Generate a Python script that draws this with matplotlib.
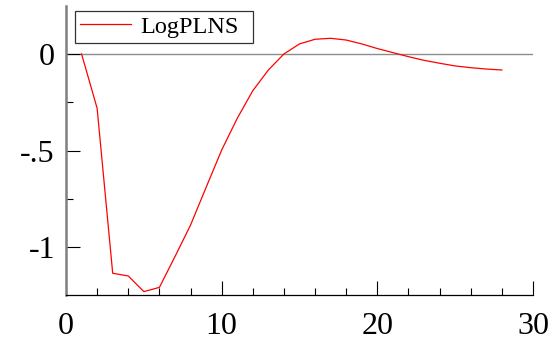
import numpy as np
import matplotlib
matplotlib.use("Agg")
import matplotlib.pyplot as plt
from matplotlib.ticker import MultipleLocator, FixedLocator, FuncFormatter

# Werte
periode = [1, 2, 3, 4, 5, 6, 7, 8, 9, 10, 11, 12, 13, 14,
           15, 16, 17, 18, 19, 20, 21, 22, 23, 24, 25, 26, 27, 28]
logplns = [0.0, -0.281, -1.134, -1.148, -1.229, -1.207, -1.048, -0.885,
           -0.69, -0.497, -0.333, -0.19, -0.083, 0.0, 0.052, 0.076, 0.081,
           0.072, 0.052, 0.028, 0.007, -0.014, -0.033, -0.048, -0.062,
           -0.071, -0.078, -0.083]
serie_name = "LogPLNS"
y_ticks = [-1.0, -0.5, 0.0]
y_labels = ["-1", "-.5", "0"]

plt.rcParams['font.family'] = ['Liberation Serif', 'DejaVu Serif']

fig = plt.figure(figsize=(5.6, 3.41), dpi=100)
ax = fig.add_axes([66 / 560, 1 - 295.3 / 341, (533 - 66) / 560, (295.3 - 6) / 341])

ax.axhline(0, color='#8c8c8c', lw=1.0, zorder=1)
ax.plot(periode, logplns, color='#ff0000', lw=0.9, label=serie_name, zorder=2)

ax.set_xlim(0, 30)
ax.set_ylim(-1.248, 0.248)

ax.xaxis.set_major_locator(MultipleLocator(10))
ax.xaxis.set_minor_locator(MultipleLocator(2))
ax.yaxis.set_major_locator(FixedLocator(y_ticks))
ax.yaxis.set_minor_locator(FixedLocator([-0.75, -0.25]))
ax.yaxis.set_major_formatter(FuncFormatter(lambda v, p: y_labels[y_ticks.index(round(v, 2))] if round(v, 2) in y_ticks else ""))

for s in ['top', 'right']:
    ax.spines[s].set_visible(False)
ax.spines['left'].set_color('#808080')
ax.spines['left'].set_linewidth(1.8)
ax.spines['bottom'].set_color('black')
ax.spines['bottom'].set_linewidth(0.9)

ax.tick_params(axis='both', which='major', direction='in', length=10, width=0.8,
               colors='black', labelsize=23)
ax.tick_params(axis='both', which='minor', direction='in', length=5.3, width=0.8,
               colors='black')
ax.tick_params(axis='x', which='major', pad=12)
ax.tick_params(axis='y', which='major', pad=8)

# Legendenbox breiter als der Text, daher mode='expand'
leg = ax.legend(loc='upper left', bbox_to_anchor=(0.0193, 0.0, 0.381, 0.983),
                mode='expand', fontsize=17.5,
                frameon=True, fancybox=False, edgecolor='black',
                handlelength=2.1, borderpad=0.2, handletextpad=0.4,
                borderaxespad=0)
leg.get_frame().set_linewidth(0.9)

fig.savefig("out.png", dpi=100)
